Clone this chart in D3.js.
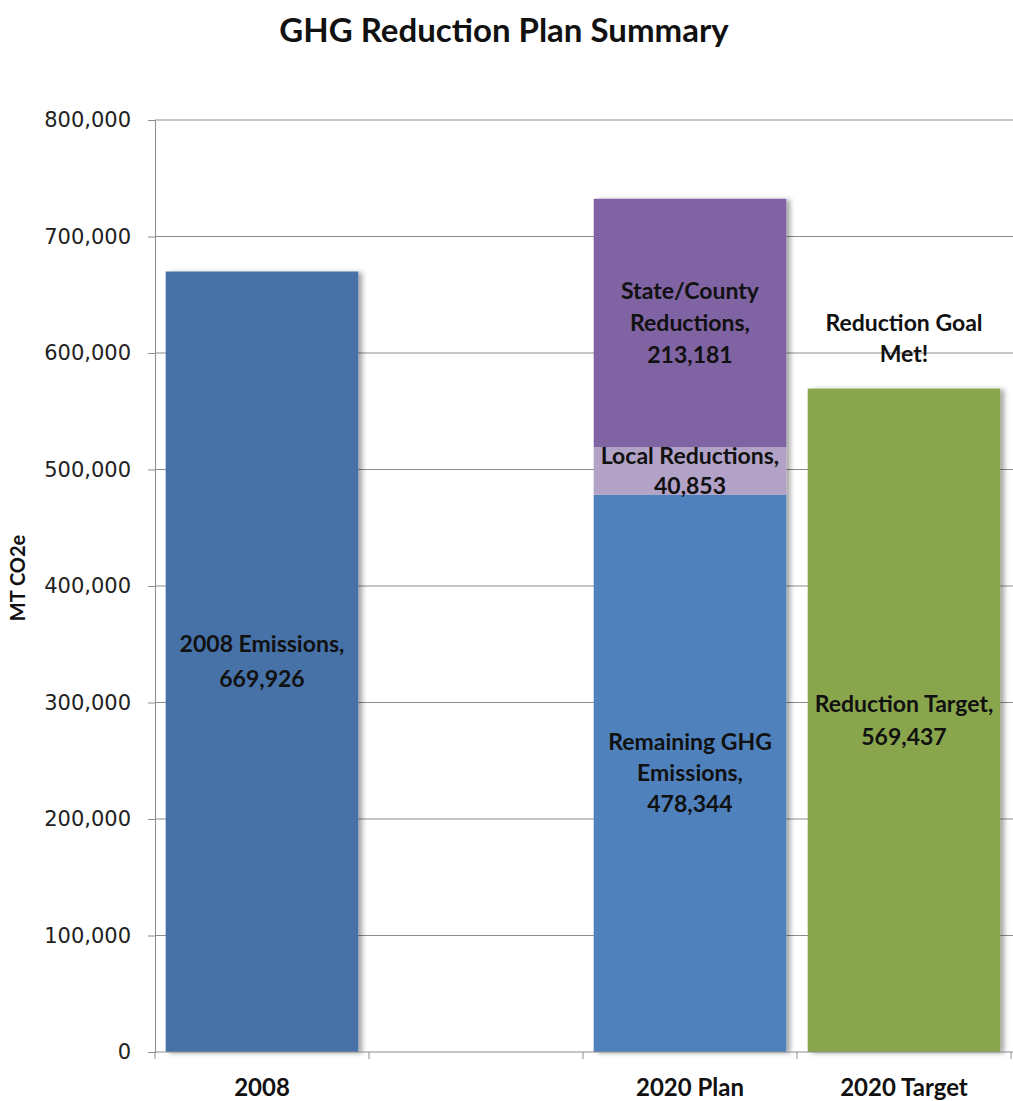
<!DOCTYPE html>
<html>
<head>
<meta charset="utf-8">
<script src="https://cdn.jsdelivr.net/npm/d3@7"></script>
<style>
  body { margin: 0; background: #fff; }
  svg { display: block; }
</style>
</head>
<body>
<div id="chart"></div>
<script>
// categories on the x axis (second slot is an empty gap, as in the original sheet)
const categories = ["2008", "", "2020 Plan", "2020 Target"];
const seriesNames = ["2008 Emissions", "Remaining GHG Emissions", "Local Reductions", "State/County Reductions", "Reduction Target"];
const seriesColors = ["#4672A8", "#4F81BD", "#B3A2C7", "#8064A2", "#8AA64E"];
// values per series, indexed by category
const emissions2008 = [669926, 0, 0, 0];
const remaining = [0, 0, 478344, 0];
const localRed = [0, 0, 40853, 0];
const stateRed = [0, 0, 213181, 0];
const target = [0, 0, 0, 569437];
const seriesValues = [emissions2008, remaining, localRed, stateRed, target];
// label lines shown inside each segment
const segmentLabels = [
  ["2008 Emissions,", "669,926"],
  ["Remaining GHG", "Emissions,", "478,344"],
  ["Local Reductions,", "40,853"],
  ["State/County", "Reductions,", "213,181"],
  ["Reduction Target,", "569,437"],
];
const yTicks = [0, 100000, 200000, 300000, 400000, 500000, 600000, 700000, 800000];
const note = ["Reduction Goal", "Met!"];

const W = 1013, H = 1101;
const pad = { t: 120, b: 49, l: 155, r: 2 };

const svg = d3.select("#chart").append("svg").attr("width", W).attr("height", H)
  .style("font-family", "Lato, 'Open Sans', sans-serif");

const defs = svg.append("defs");
defs.append("filter").attr("id", "shadow").attr("x", "-5%").attr("y", "-5%").attr("width", "115%").attr("height", "110%")
  .append("feDropShadow").attr("dx", 4).attr("dy", 1).attr("stdDeviation", 2.5)
  .attr("flood-color", "#000").attr("flood-opacity", 0.35);

const x = d3.scaleBand().domain(categories.map((c, i) => i))
  .range([pad.l, W - pad.r]).paddingInner(0.1).paddingOuter(0.05);
const y = d3.scaleLinear().domain([0, 800000]).range([H - pad.b, pad.t]);

// gridlines
svg.append("g").selectAll("line").data(yTicks.slice(1)).join("line")
  .attr("x1", pad.l).attr("x2", W).attr("y1", d => y(d)).attr("y2", d => y(d))
  .attr("stroke", "#8c8c8c").attr("stroke-width", 1);

// stack segments
const rows = categories.map((c, i) => {
  const r = { i };
  seriesNames.forEach((s, k) => { r[s] = seriesValues[k][i]; });
  return r;
});
const stacked = d3.stack().keys(seriesNames)(rows);

const segs = [];
stacked.forEach((layer, k) => {
  layer.forEach(d => {
    if (d[1] - d[0] > 0) segs.push({ k, i: d.data.i, y0: d[0], y1: d[1] });
  });
});

// one group per category so the shadow wraps the whole stacked bar
const barG = svg.append("g");
categories.forEach((c, i) => {
  const s = segs.filter(d => d.i === i);
  if (!s.length) return;
  const g = barG.append("g").attr("filter", "url(#shadow)");
  g.selectAll("rect").data(s).join("rect")
    .attr("x", x(i)).attr("width", x.bandwidth())
    .attr("y", d => y(d.y1)).attr("height", d => y(d.y0) - y(d.y1))
    .attr("fill", d => seriesColors[d.k]);
});

// segment labels
const lineStep = [35, 31, 30, 32, 33];
segs.forEach(d => {
  const lines = segmentLabels[d.k];
  const cy = y((d.y0 + d.y1) / 2);
  const step = lineStep[d.k];
  const st = cy - (lines.length - 1) * step / 2;
  svg.append("text").attr("text-anchor", "middle")
    .attr("font-size", 23).attr("font-weight", "bold").attr("fill", "#111")
    .selectAll("tspan").data(lines).join("tspan")
    .attr("x", x(d.i) + x.bandwidth() / 2)
    .attr("y", (l, j) => st + j * step)
    .attr("dy", "0.35em")
    .text(l => l);
});

// note above target bar
svg.append("text").attr("text-anchor", "middle")
  .attr("font-size", 23).attr("font-weight", "bold").attr("fill", "#111")
  .selectAll("tspan").data(note).join("tspan")
  .attr("x", x(3) + x.bandwidth() / 2)
  .attr("y", (l, j) => y(626000) + j * 31)
  .attr("dy", "0.35em")
  .text(l => l);

// y axis
const yAxis = svg.append("g").attr("transform", `translate(${pad.l},0)`)
  .call(d3.axisLeft(y).tickValues(yTicks).tickSize(7).tickPadding(17)
    .tickFormat(d => d === 0 ? "0" : d3.format(",")(d)));
yAxis.select(".domain").attr("stroke", "#8c8c8c");
yAxis.selectAll(".tick line").attr("stroke", "#8c8c8c");
yAxis.selectAll(".tick text").attr("font-size", 21).attr("fill", "#222")
  .attr("font-family", "'DejaVu Sans', sans-serif");

// x axis: ticks on band boundaries
const xg = svg.append("g").attr("transform", `translate(0,${H - pad.b})`);
xg.append("line").attr("x1", pad.l).attr("x2", W).attr("stroke", "#8c8c8c");
const step = x.step();
const bounds = d3.range(categories.length + 1).map(i => pad.l + i * step);
xg.selectAll(".tk").data(bounds).join("line").attr("class", "tk")
  .attr("x1", d => d).attr("x2", d => d).attr("y1", 0).attr("y2", 7).attr("stroke", "#8c8c8c");
xg.selectAll("text").data(categories).join("text")
  .attr("x", (c, i) => x(i) + x.bandwidth() / 2).attr("y", 44)
  .attr("text-anchor", "middle").attr("font-size", 24).attr("font-weight", "bold").attr("fill", "#111")
  .text(c => c);

// y title
svg.append("text").attr("transform", `translate(25,${y(400000) - 8}) rotate(-90)`)
  .attr("text-anchor", "middle").attr("font-size", 20).attr("font-weight", "bold").attr("fill", "#111")
  .text("MT CO2e");

// title
svg.append("text").attr("x", 504).attr("y", 42).attr("text-anchor", "middle")
  .attr("font-size", 33).attr("font-weight", "bold").attr("fill", "#111")
  .text("GHG Reduction Plan Summary");
</script>
</body>
</html>
